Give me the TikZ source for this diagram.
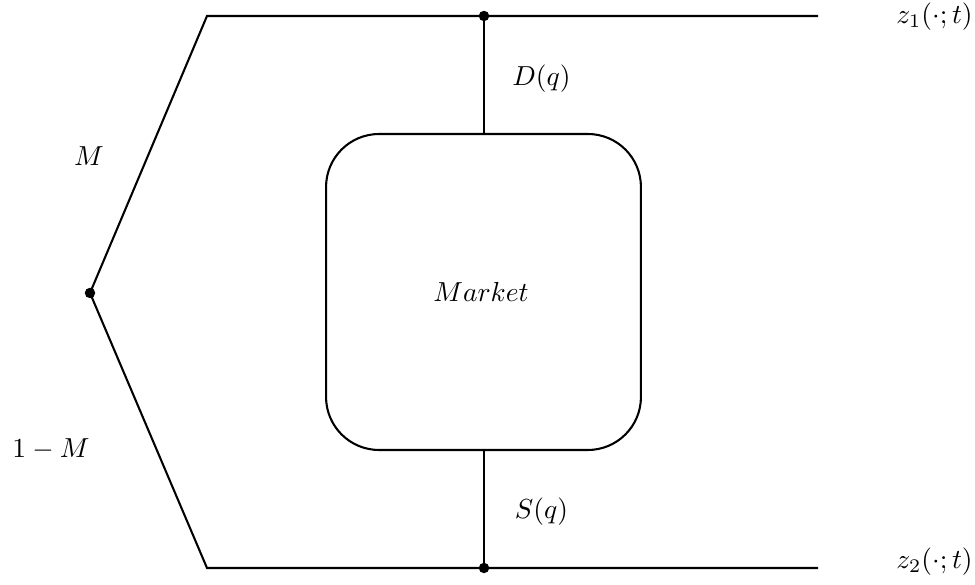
\documentclass[tikz,border=0pt]{standalone}
\begin{document}
\begin{tikzpicture}[x=0.3636pt, y=-0.3636pt,
  wire/.style={line width=0.75pt},
  dotmark/.style={circle, fill=black, inner sep=0pt, minimum size=3.8pt},
  lbl/.style={inner sep=0pt}]
\useasboundingbox (0,0) rectangle (975,585);
\coordinate (L) at (90,293);
\coordinate (TL) at (207,16);
\coordinate (TR) at (818,16);
\coordinate (BL) at (207,568);
\coordinate (BR) at (818,568);
\node[dotmark] (TJ) at (484,16) {};
\node[dotmark] (BJ) at (484,568) {};
\node[dotmark] (LV) at (L) {};
\node[draw, wire, rounded corners=19.3pt, minimum width=114.5pt, minimum height=114.9pt, inner sep=0pt] (mk) at (483.5,292) {};
\node[lbl] (mktxt) at (481,291.5) {$Market$};
\draw[wire] (TR) -- (TL) -- (LV.center) -- (BL) -- (BR);
\draw[wire] (TJ.center) -- (mk.north -| TJ);
\draw[wire] (BJ.center) -- (mk.south -| BJ);
\node[lbl] (z1) at (934.5,17) {$z_1(\cdot;t)$};
\node[lbl] (z2) at (934.5,562) {$z_2(\cdot;t)$};
\node[lbl] (m) at (89,156) {$M$};
\node[lbl] (om) at (51,449) {$1-M$};
\node[lbl] (d) at (541.5,79) {$D(q)$};
\node[lbl] (s) at (541.5,512) {$S(q)$};
\end{tikzpicture}
\end{document}
